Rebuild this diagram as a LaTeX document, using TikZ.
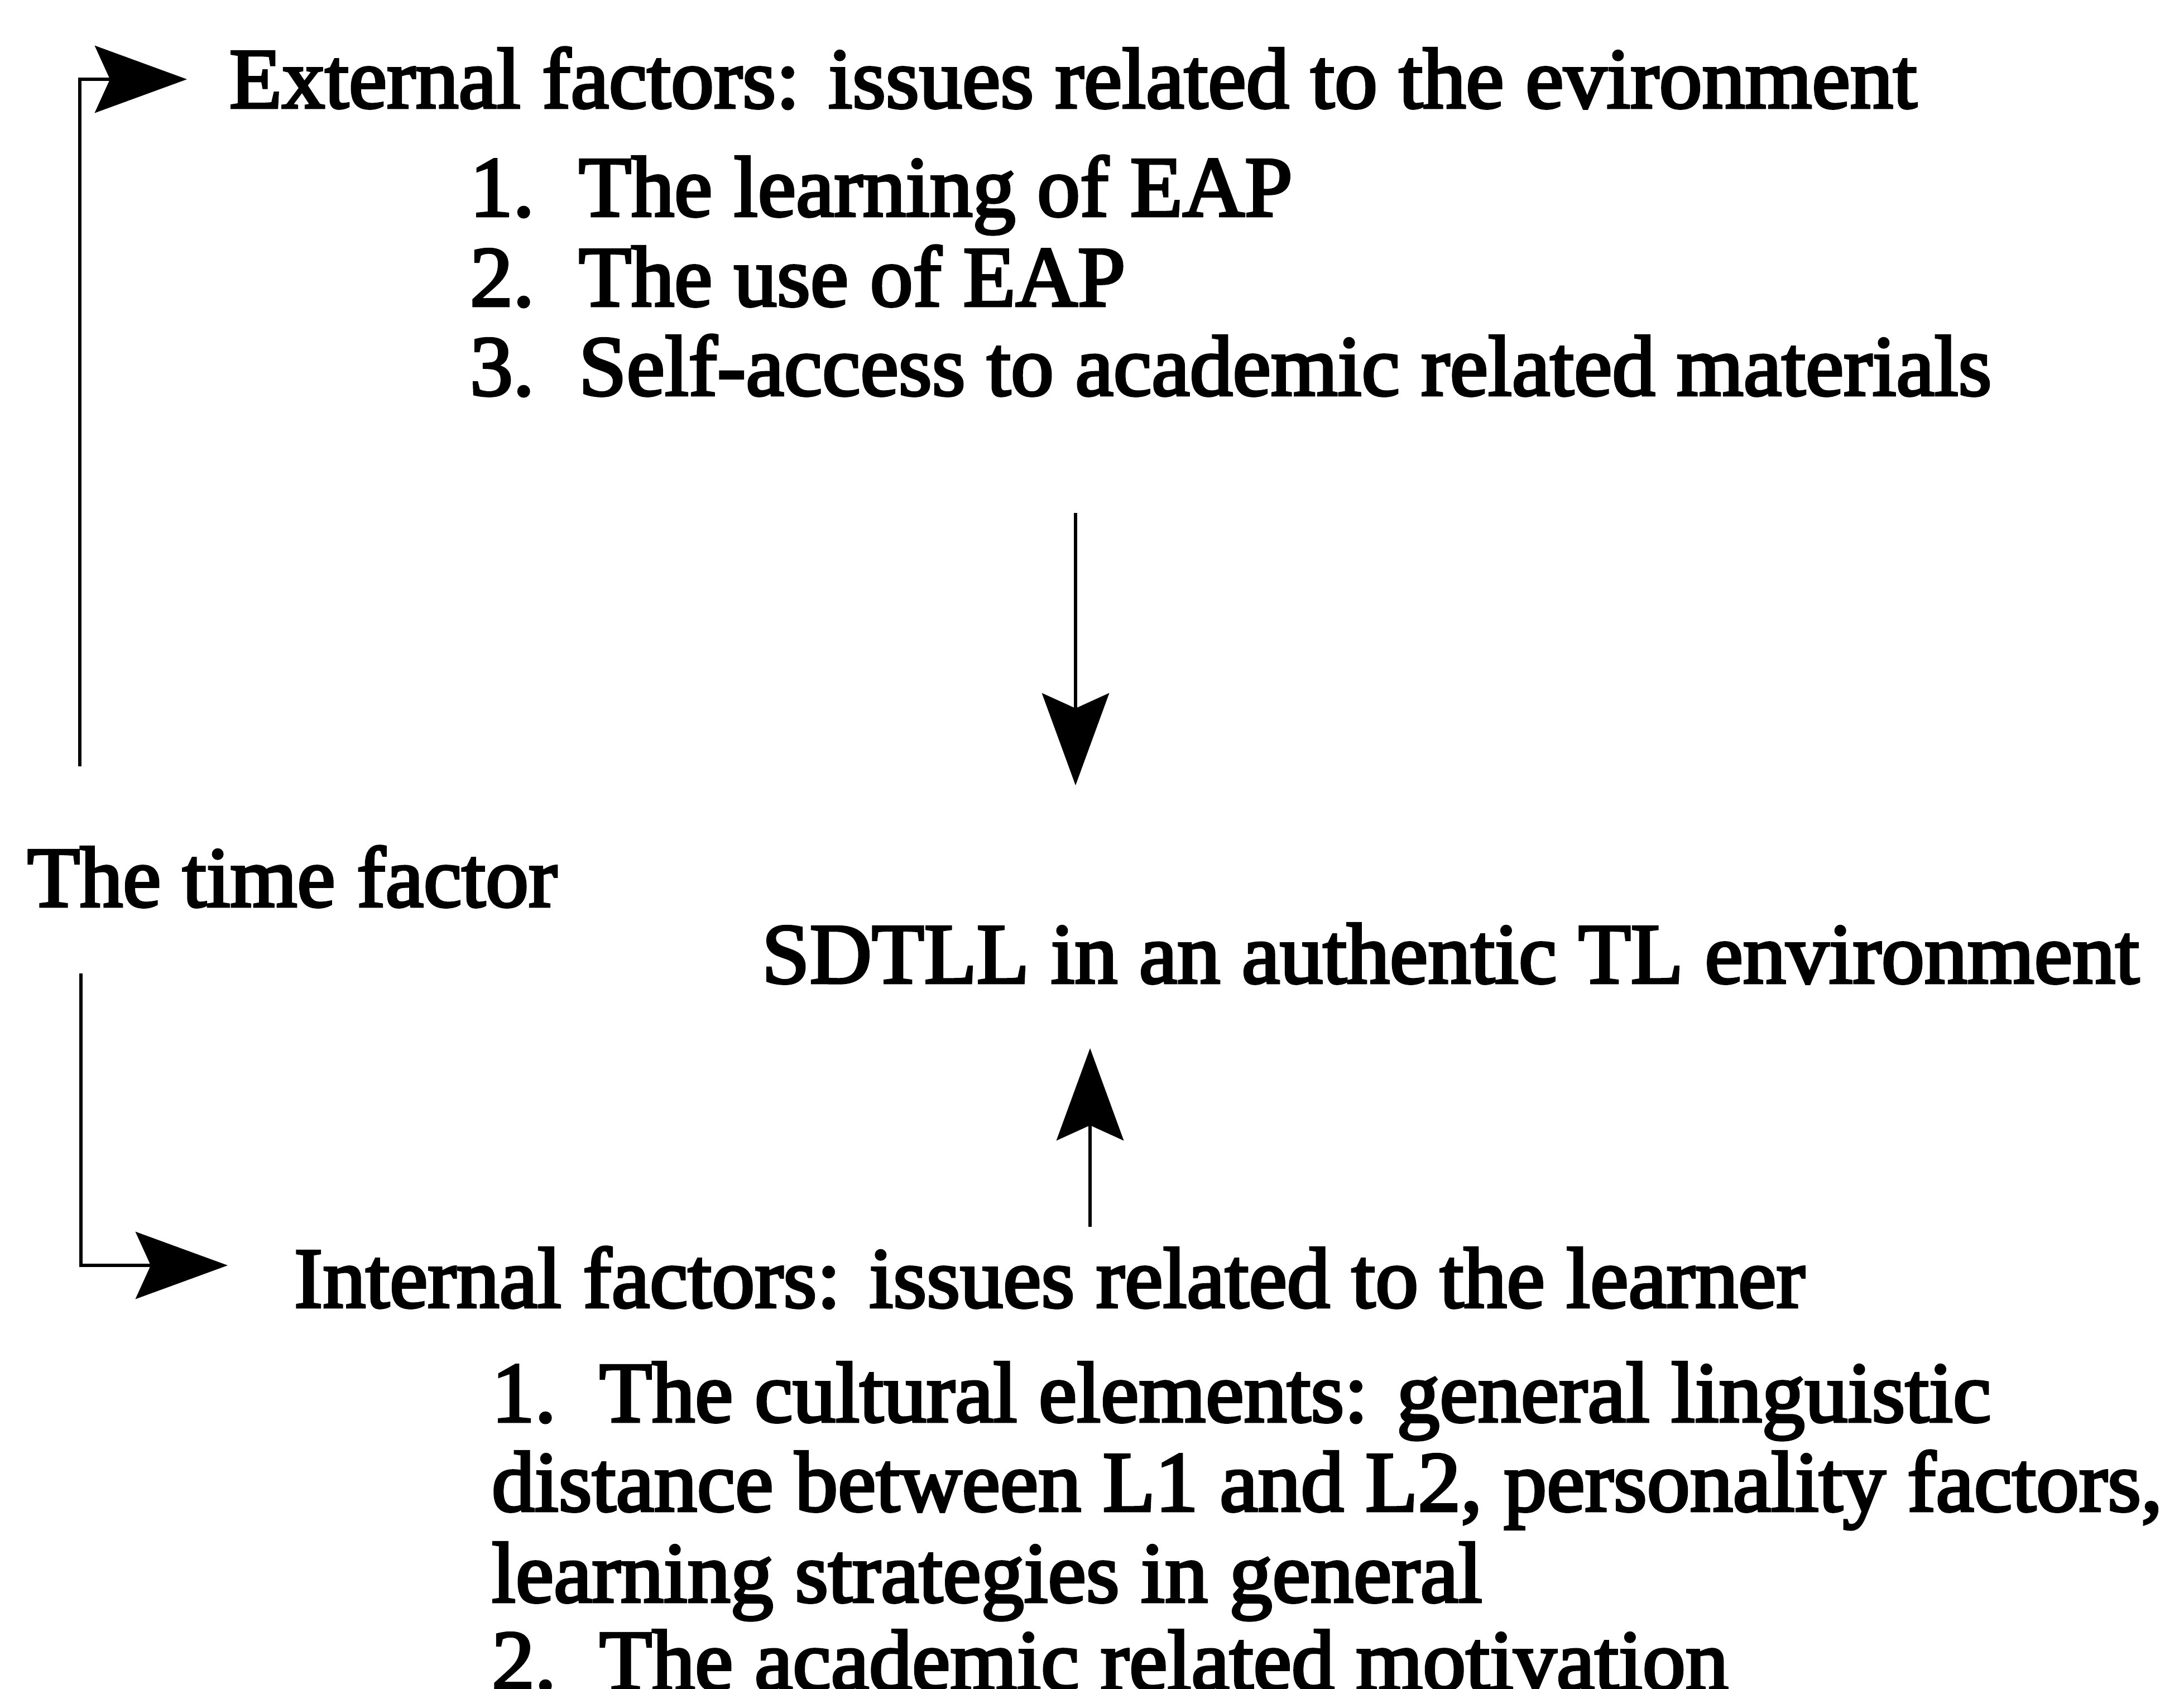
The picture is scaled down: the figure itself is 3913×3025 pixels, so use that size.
\documentclass[tikz,border=0pt]{standalone}
\usepackage{fontspec}
\usetikzlibrary{arrows.meta,calc}
% heavy Times-like face for the labels
\font\scanfont="Liberation Serif:embolden=3" at 15.4pt
\begin{document}
\begin{tikzpicture}[x={(0.1pt,0)}, y={(0,-0.1pt)}]
\tikzset{
  lbl/.style={anchor=base west, inner sep=0pt, font=\scanfont},
  arr/.style={line width=0.65pt, -{Stealth[length=16.5pt,width=12pt,inset=2.7pt]}}
}
\useasboundingbox (0,0) rectangle (3913,3025);

% external factors
\node[lbl] (ext) at (409,193) {External factors: issues related to the evironment};
\node[lbl] (en1) at (840,387) {1.};
\node[lbl] (ei1) at (1035,387) {The learning of EAP};
\node[lbl] (en2) at (840,548) {2.};
\node[lbl] (ei2) at (1035,548) {The use of EAP};
\node[lbl] (en3) at (840,708) {3.};
\node[lbl] (ei3) at (1035,708) {Self-access to academic related materials};

% time factor and target
\node[lbl] (time) at (47,1624) {The time factor};
\node[lbl] (sdtll) at (1363,1761) {SDTLL in an authentic TL environment};

% internal factors
\node[lbl] (int) at (525,2342) {Internal factors: issues related to the learner};
\node[lbl] (in1) at (879,2547) {1.};
\node[lbl] (ii1) at (1072,2547) {The cultural elements: general linguistic};
\node[lbl] (ii1b) at (879,2707) {distance between L1 and L2, personality factors,};
\node[lbl] (ii1c) at (879,2870) {learning strategies in general};
\node[lbl] (in2) at (879,3027) {2.};
\node[lbl] (ii2) at (1072,3027) {The academic related motivation};

% connector end points
\coordinate (upstart) at ($(time.base west)+(96,-251)$);
\coordinate (downstart) at ($(time.base west)+(98,120)$);
\coordinate (extin) at ($(ext.base west)+(-74,-51)$);
\coordinate (intin) at ($(int.base west)+(-117,-75)$);
\coordinate (dtop) at (1927,919);
\coordinate (dtip) at (1927,1407);
\coordinate (ubot) at (1953,2198);
\coordinate (utip) at (1953,1878);

% connectors
\draw[arr] (upstart) |- (extin);
\draw[arr] (downstart) |- (intin);
\draw[arr] (dtop) -- (dtip);
\draw[arr] (ubot) -- (utip);
\end{tikzpicture}
\end{document}
